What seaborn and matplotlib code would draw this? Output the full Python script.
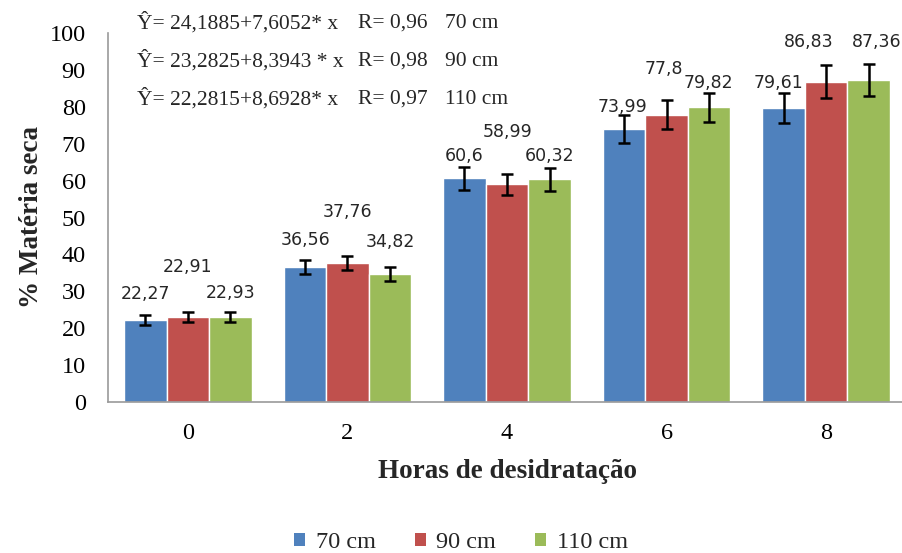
import matplotlib
matplotlib.use("Agg")
import matplotlib.pyplot as plt
import seaborn as sns
import pandas as pd
from matplotlib.patches import Patch

# Dry matter (%) by dehydration time and layer thickness
horas = ["0", "2", "4", "6", "8"]
series = ["70 cm", "90 cm", "110 cm"]
v70 = [22.27, 36.56, 60.6, 73.99, 79.61]
v90 = [22.91, 37.76, 58.99, 77.8, 86.83]
v110 = [22.93, 34.82, 60.32, 79.82, 87.36]
err70 = [1.4, 1.9, 3.2, 3.7, 4.0]
err90 = [1.35, 1.9, 2.9, 3.95, 4.4]
err110 = [1.35, 1.9, 3.15, 3.95, 4.3]
equations = ["Ŷ= 24,1885+7,6052* x", "Ŷ= 23,2825+8,3943 * x", "Ŷ= 22,2815+8,6928* x"]
r_values = ["R= 0,96", "R= 0,98", "R= 0,97"]

colors = {"70 cm": "#4F81BD", "90 cm": "#C0504D", "110 cm": "#9BBB59"}

# Label offsets (pixels) from the bar top: (dx, dy) per series, per group
label_off = {
    "70 cm": [(0, 26), (1, 27), (0, 22), (-2, 22), (-5, 25)],
    "90 cm": [(0, 50), (0, 51), (1, 52), (-3, 46), (-18, 40)],
    "110 cm": [(0, 24), (0, 32), (0, 23), (-1, 24), (8, 38)],
}

values = {"70 cm": v70, "90 cm": v90, "110 cm": v110}
errors = {"70 cm": err70, "90 cm": err90, "110 cm": err110}

df = pd.DataFrame({
    "Horas": horas * 3,
    "Serie": sum([[s] * len(horas) for s in series], []),
    "Valor": v70 + v90 + v110,
})

sns.set_style("white")
plt.rcParams["font.family"] = ["Liberation Serif", "DejaVu Serif"]

fig = plt.figure(figsize=(9.03, 5.53), dpi=100)
W, H = 903, 553
ax = fig.add_axes([108 / W, (H - 402) / H, (906 - 108) / W, (402 - 33) / H])

sns.barplot(data=df, x="Horas", y="Valor", hue="Serie", order=horas,
            hue_order=series, palette=colors, errorbar=None, width=0.8,
            saturation=1, ax=ax, legend=False)

px2pt = 72 / 100
for cont, s in zip(ax.containers, series):
    for i, bar in enumerate(cont):
        xc = bar.get_x() + bar.get_width() / 2
        val = values[s][i]
        ax.errorbar(xc, val, yerr=errors[s][i], fmt="none", ecolor="black",
                    elinewidth=1.8, capsize=4.5, capthick=1.8, zorder=5)
        dx, dy = label_off[s][i]
        ax.annotate(f"{val:g}".replace(".", ","), (xc, val),
                    xytext=(dx * px2pt, dy * px2pt), textcoords="offset points",
                    ha="center", va="center", fontsize=12.5,
                    family="DejaVu Sans", color="#262626")

ax.set_ylim(0, 100)
ax.set_xlim(-0.5, 4.5)
ax.set_yticks(range(0, 101, 10))
ax.tick_params(axis="both", length=0, labelsize=17.5, colors="black")
ax.tick_params(axis="y", pad=16)
ax.tick_params(axis="x", pad=15)
for sp in ["top", "right"]:
    ax.spines[sp].set_visible(False)
for sp in ["left", "bottom"]:
    ax.spines[sp].set_color("#9a9a9a")
    ax.spines[sp].set_linewidth(1.2)

ax.set_xlabel("Horas de desidratação", fontsize=19.5, fontweight="bold", labelpad=11)
ax.set_ylabel("% Matéria seca", fontsize=19.5, fontweight="bold", labelpad=4)

# Regression equations
for k, (eq, r, s) in enumerate(zip(equations, r_values, series)):
    y = 1 - (23 + 38 * k) / H
    fig.text(137 / W, y, eq, fontsize=15.5, va="center", ha="left")
    fig.text(358 / W, y, r, fontsize=15.5, va="center", ha="left")
    fig.text(445 / W, y, s, fontsize=15.5, va="center", ha="left")

handles = [Patch(facecolor=colors[s], edgecolor="none") for s in series]
fig.legend(handles, series, loc="center", bbox_to_anchor=(461 / W, 1 - 543 / H),
           ncol=3, frameon=False, fontsize=17.5, handlelength=0.45, handleheight=0.45,
           handletextpad=0.45, columnspacing=1.6)

fig.savefig("out.png", dpi=100)
